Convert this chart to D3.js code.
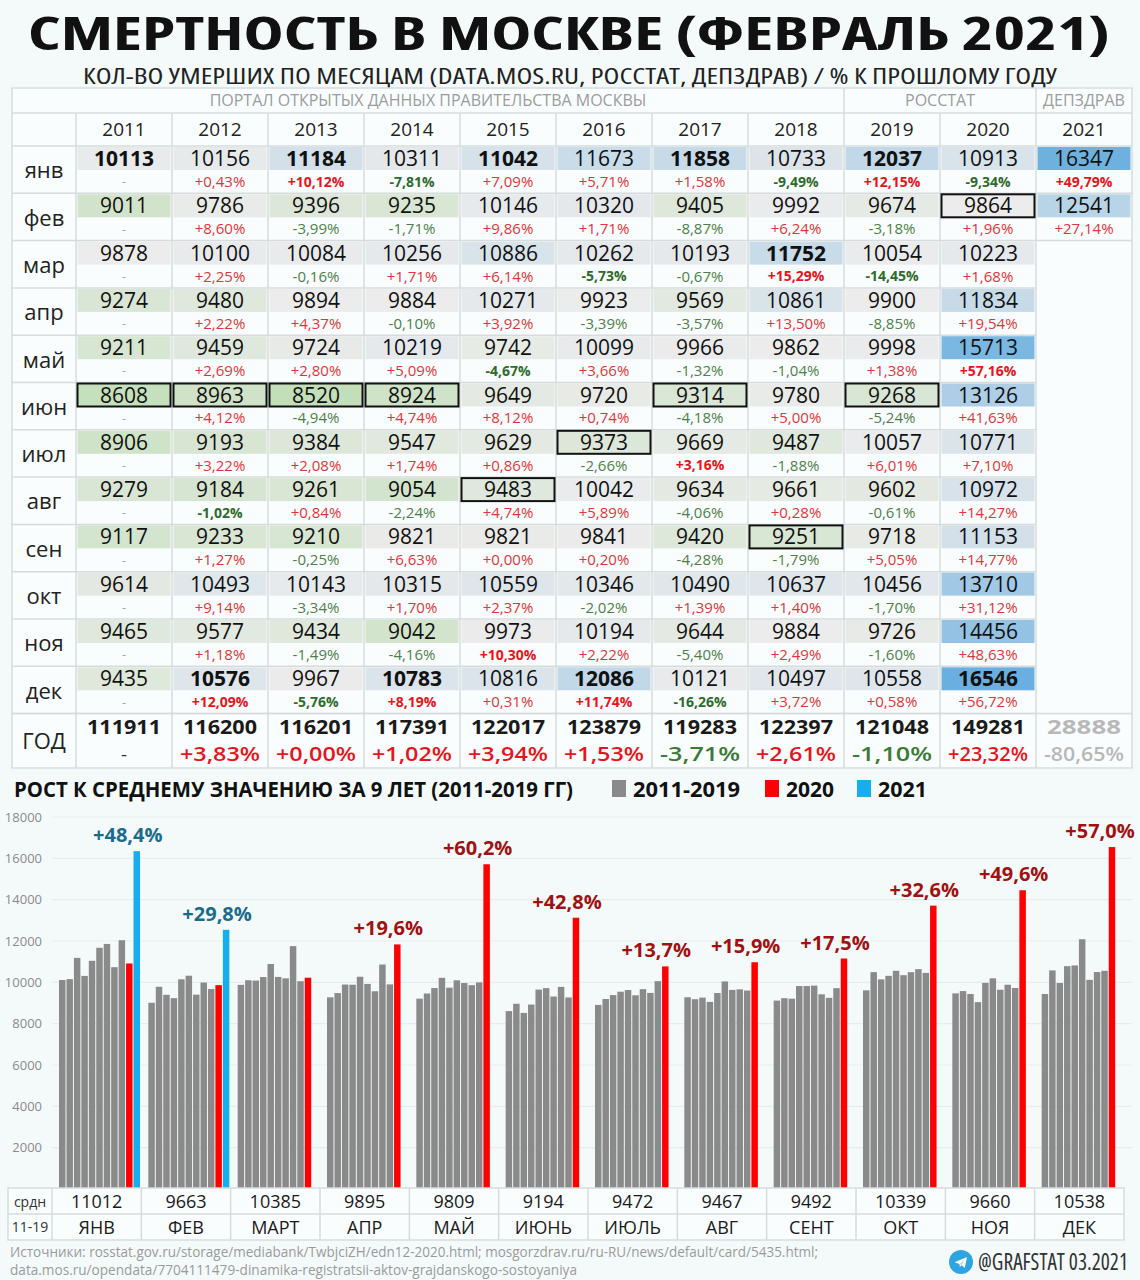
<!DOCTYPE html>
<html><head><meta charset="utf-8">
<script src="https://cdn.jsdelivr.net/npm/d3@7"></script>
<style>
html,body{margin:0;padding:0;background:#f4fafa;}
svg{display:block;}
text{font-family:"Open Sans","Noto Sans",sans-serif;}
</style></head>
<body>
<svg id="chart" width="1140" height="1280"></svg>
<script>
// ---------------- DATA ----------------
const months = ["янв","фев","мар","апр","май","июн","июл","авг","сен","окт","ноя","дек"];
const monthsShort = ["ЯНВ","ФЕВ","МАРТ","АПР","МАЙ","ИЮНЬ","ИЮЛЬ","АВГ","СЕНТ","ОКТ","НОЯ","ДЕК"];
const years = [2011,2012,2013,2014,2015,2016,2017,2018,2019,2020,2021];
const v2011 = [10113,9011,9878,9274,9211,8608,8906,9279,9117,9614,9465,9435];
const v2012 = [10156,9786,10100,9480,9459,8963,9193,9184,9233,10493,9577,10576];
const v2013 = [11184,9396,10084,9894,9724,8520,9384,9261,9210,10143,9434,9967];
const v2014 = [10311,9235,10256,9884,10219,8924,9547,9054,9821,10315,9042,10783];
const v2015 = [11042,10146,10886,10271,9742,9649,9629,9483,9821,10559,9973,10816];
const v2016 = [11673,10320,10262,9923,10099,9720,9373,10042,9841,10346,10194,12086];
const v2017 = [11858,9405,10193,9569,9966,9314,9669,9634,9420,10490,9644,10121];
const v2018 = [10733,9992,11752,10861,9862,9780,9487,9661,9251,10637,9884,10497];
const v2019 = [12037,9674,10054,9900,9998,9268,10057,9602,9718,10456,9726,10558];
const v2020 = [10913,9864,10223,11834,15713,13126,10771,10972,11153,13710,14456,16546];
const v2021 = [16347,12541];
const sourceGroups = [
  {label:"ПОРТАЛ ОТКРЫТЫХ ДАННЫХ ПРАВИТЕЛЬСТВА МОСКВЫ", from:null, to:2018},
  {label:"РОССТАТ", from:2019, to:2020},
  {label:"ДЕПЗДРАВ", from:2021, to:2021}
];
const baseYears = [2011,2012,2013,2014,2015,2016,2017,2018,2019];
const yTicks = [2000,4000,6000,8000,10000,12000,14000,16000,18000];
const titleText = "СМЕРТНОСТЬ В МОСКВЕ (ФЕВРАЛЬ 2021)";
const subtitleText = "КОЛ-ВО УМЕРШИХ ПО МЕСЯЦАМ (DATA.MOS.RU, РОССТАТ, ДЕПЗДРАВ) / % К ПРОШЛОМУ ГОДУ";
const chartTitle = "РОСТ К СРЕДНЕМУ ЗНАЧЕНИЮ ЗА 9 ЛЕТ (2011-2019 ГГ)";
const legendItems = ["2011-2019","2020","2021"];
const sourceLines = [
  "Источники: rosstat.gov.ru/storage/mediabank/TwbjciZH/edn12-2020.html; mosgorzdrav.ru/ru-RU/news/default/card/5435.html;",
  "data.mos.ru/opendata/7704111479-dinamika-registratsii-aktov-grajdanskogo-sostoyaniya"
];
const credit = "@GRAFSTAT 03.2021";

// ---------------- BUILD ----------------
const series = {2011:v2011,2012:v2012,2013:v2013,2014:v2014,2015:v2015,2016:v2016,2017:v2017,2018:v2018,2019:v2019,2020:v2020,2021:v2021};
const svg = d3.select("#chart");
svg.append("rect").attr("width",1140).attr("height",1280).attr("fill","#f4fafa");

const fmtPct = v => d3.format("+.2f")(v).replace("−","-").replace(".",",") + "%";
const fmtPct1 = v => d3.format("+.1f")(v).replace("−","-").replace(".",",") + "%";
const DV = "'DejaVu Sans Condensed','DejaVu Sans',sans-serif";

// text fitted to a width by font size, then scaled vertically to a cap height
function fitted(o) {
  const g = svg.append("g");
  const t = g.append("text").attr("x",0).attr("y",0).attr("text-anchor",o.anchor)
    .attr("font-family",o.family).attr("font-weight",o.weight||400).attr("font-size",40)
    .attr("fill",o.fill).style("font-stretch","condensed").text(o.text);
  const len = t.node().getComputedTextLength();
  const fs = 40*o.width/len;
  t.attr("font-size",fs);
  const k = o.capH/(0.729*fs);
  g.attr("transform",`translate(${o.x},${o.y}) scale(1,${k})`);
  return t;
}

// Title
svg.append("text").attr("x",569).attr("y",50).attr("text-anchor","middle")
  .attr("font-family",DV).style("font-stretch","condensed").attr("font-weight",700)
  .attr("font-size",46).attr("fill","#111")
  .attr("textLength",1082).attr("lengthAdjust","spacingAndGlyphs").text(titleText);
svg.append("text").attr("x",570).attr("y",84).attr("text-anchor","middle")
  .attr("font-family",DV).style("font-stretch","condensed")
  .attr("font-size",21).attr("fill","#222")
  .attr("textLength",974).attr("lengthAdjust","spacingAndGlyphs").text(subtitleText);

// ---------------- TABLE ----------------
const tabL = 12, tabR = 1132, tabTop = 88, hdr1B = 113, hdr2B = 146;
const x = d3.scaleBand().domain(years).range([76,1132]);
const yRow = d3.scaleBand().domain(months).range([146,713.6]);
const godTop = 713.6, godBot = 768;
const allVals = years.flatMap(y => series[y]);
const color = d3.scaleLinear()
  .domain([d3.min(allVals), d3.median(allVals), d3.max(allVals)])
  .range(["#c2dfb9","#ececec","#6aafdf"]);

const gT = svg.append("g");
gT.append("rect").attr("x",tabL).attr("y",tabTop).attr("width",tabR-tabL).attr("height",godBot-tabTop)
  .attr("fill","#fafdfd").attr("stroke","#d6dcdc").attr("stroke-width",1.5);

// source header
sourceGroups.forEach(g => {
  const x0 = g.from===null ? tabL : x(g.from);
  const x1 = x(g.to) + x.bandwidth();
  gT.append("text").attr("x",(x0+x1)/2).attr("y",(tabTop+hdr1B)/2).attr("dy","0.35em")
    .attr("text-anchor","middle").attr("font-size",16).attr("fill","#9c9c9c").text(g.label);
  if (g.from!==null) gT.append("line").attr("x1",x0).attr("x2",x0).attr("y1",tabTop).attr("y2",hdr1B)
    .attr("stroke","#d6dcdc").attr("stroke-width",1.5);
});
gT.append("line").attr("x1",tabL).attr("x2",tabR).attr("y1",hdr1B).attr("y2",hdr1B).attr("stroke","#d6dcdc").attr("stroke-width",1.5);
gT.append("line").attr("x1",tabL).attr("x2",tabR).attr("y1",hdr2B).attr("y2",hdr2B).attr("stroke","#d6dcdc").attr("stroke-width",1.5);

// year header
years.forEach(y => {
  gT.append("text").attr("x",x(y)+x.bandwidth()/2).attr("y",(hdr1B+hdr2B)/2).attr("dy","0.35em")
    .attr("text-anchor","middle").attr("font-size",19).attr("fill","#222").text(y);
});

// row separators
months.forEach(m => {
  gT.append("line").attr("x1",tabL).attr("x2",m==="фев"||m==="янв"?tabR:x(2021)).attr("y1",yRow(m)+yRow.bandwidth()).attr("y2",yRow(m)+yRow.bandwidth())
    .attr("stroke","#d6dcdc").attr("stroke-width",1.5);
  gT.append("text").attr("x",44).attr("y",yRow(m)+yRow.bandwidth()/2+1).attr("dy","0.35em")
    .attr("text-anchor","middle").attr("font-size",22).attr("fill","#222").text(m);
});
gT.append("line").attr("x1",tabL).attr("x2",tabR).attr("y1",godTop).attr("y2",godTop).attr("stroke","#d6dcdc").attr("stroke-width",1.5);

// column separators
years.forEach(y => {
  gT.append("line").attr("x1",x(y)).attr("x2",x(y)).attr("y1",hdr1B).attr("y2",godBot)
    .attr("stroke","#d6dcdc").attr("stroke-width",1.5);
});

// cells
const valH = 24;
years.forEach((yr, yi) => {
  const vals = series[yr];
  const prev = yi>0 ? series[years[yi-1]] : null;
  const colMax = d3.max(vals), colMin = d3.min(vals);
  const pcts = vals.map((v,i) => prev ? (v/prev[i]-1)*100 : null);
  const pMax = prev ? d3.max(pcts) : null, pMin = prev ? d3.min(pcts) : null;
  vals.forEach((v,i) => {
    const m = months[i];
    const cx = x(yr)+x.bandwidth()/2, top = yRow(m);
    gT.append("rect").attr("x",x(yr)+1.5).attr("y",top+1).attr("width",x.bandwidth()-3).attr("height",valH-1)
      .attr("fill",color(v));
    const isMax = yr<2021 && v===colMax, isMin = yr<2021 && v===colMin;
    if (isMin) gT.append("rect").attr("x",x(yr)+1.5).attr("y",top+1).attr("width",x.bandwidth()-3).attr("height",valH-1)
      .attr("fill","none").attr("stroke","#111").attr("stroke-width",2);
    gT.append("text").attr("x",cx).attr("y",top+valH/2+0.5).attr("dy","0.36em").attr("text-anchor","middle")
      .attr("font-size",21).attr("font-weight",isMax?700:400).attr("fill","#111").text(v);
    const py = top + valH + (yRow.bandwidth()-valH)/2;
    if (!prev) {
      gT.append("text").attr("x",cx).attr("y",py).attr("dy","0.35em").attr("text-anchor","middle")
        .attr("font-size",13).attr("fill","#aaa").text("-");
    } else {
      const p = pcts[i];
      const bold = p===pMax || (p===pMin && vals.length>2);
      gT.append("text").attr("x",cx).attr("y",py).attr("dy","0.35em").attr("text-anchor","middle")
        .attr("font-family", bold ? "'Open Sans',sans-serif" : "'Liberation Serif','DejaVu Serif',serif")
        .attr("font-size", bold?14:15).attr("font-weight",bold?700:400)
        .attr("fill", p>=0 ? (bold?"#e8141c":"#e0353b") : (bold?"#2f6b2a":"#4f8048"))
        .text(fmtPct(p));
    }
  });
});

// Year totals
const totals = years.map(y => d3.sum(series[y]));
years.forEach((yr, yi) => {
  const cx = x(yr)+x.bandwidth()/2;
  const grey = yr===2021;
  gT.append("text").attr("x",cx).attr("y",727).attr("dy","0.35em").attr("text-anchor","middle")
    .attr("font-size",19).attr("font-weight",700).attr("fill",grey?"#b8b8b8":"#1a1a1a")
    .attr("textLength",74).attr("lengthAdjust","spacingAndGlyphs").text(totals[yi]);
  let txt, fill;
  if (yi===0) { txt="-"; fill="#333"; }
  else {
    const p = (totals[yi]/totals[yi-1]-1)*100;
    txt = fmtPct(p);
    fill = grey ? "#b8b8b8" : (p>=0 ? "#e8141c" : "#3c7a37");
  }
  gT.append("text").attr("x",cx).attr("y",754).attr("dy","0.35em").attr("text-anchor","middle")
    .attr("font-size",19).attr("font-weight",yi===0?400:600).attr("fill",fill)
    .attr("textLength",yi===0?null:80).attr("lengthAdjust","spacingAndGlyphs").text(txt);
});
gT.append("text").attr("x",44).attr("y",741).attr("dy","0.35em").attr("text-anchor","middle")
  .attr("font-size",22).attr("fill","#222").text("ГОД");

// ---------------- BAR CHART ----------------
svg.append("text").attr("x",14).attr("y",797).attr("font-size",22).attr("font-weight",700).attr("fill","#111")
  .attr("textLength",559).attr("lengthAdjust","spacingAndGlyphs").text(chartTitle);
const legColors = ["#8a8a8a","#ff0000","#17aeee"];
const legX = [612,765,857], legW = [107,48,49];
legendItems.forEach((t,i) => {
  svg.append("rect").attr("x",legX[i]).attr("y",780).attr("width",14).attr("height",17).attr("fill",legColors[i]);
  svg.append("text").attr("x",legX[i]+21).attr("y",797).attr("font-size",22).attr("font-weight",700).attr("fill","#111")
    .attr("textLength",legW[i]).attr("lengthAdjust","spacingAndGlyphs").text(t);
});

const yS = d3.scaleLinear().domain([0,18000]).range([1189,817]);
const xM = d3.scaleBand().domain(months).range([52,1124]);
const xY = d3.scaleBand().domain(years).range([7,88]).paddingInner(0.13);

// gridlines
svg.append("g").selectAll("line").data(yTicks).join("line")
  .attr("x1",52).attr("x2",1132).attr("y1",d=>yS(d)).attr("y2",d=>yS(d))
  .attr("stroke","#e3eded").attr("stroke-width",1.2);
const yAx = svg.append("g").attr("transform","translate(46,0)")
  .call(d3.axisLeft(yS).tickValues(yTicks).tickSize(0).tickPadding(4).tickFormat(d=>d));
yAx.select(".domain").remove();
yAx.selectAll("text").attr("font-size",13).attr("fill","#8a8a8a").attr("font-family","'Open Sans',sans-serif");

const barColor = yr => yr===2021 ? "#17aeee" : (yr===2020 ? "#ff0000" : "#8a8a8a");
const bars = [];
months.forEach((m,i) => {
  years.forEach(yr => {
    const v = series[yr][i];
    if (v!==undefined) bars.push({m, yr, v});
  });
});
svg.append("g").selectAll("rect").data(bars).join("rect")
  .attr("x", d => xM(d.m) + xY(d.yr))
  .attr("width", xY.bandwidth())
  .attr("y", d => yS(d.v))
  .attr("height", d => yS(0)-yS(d.v))
  .attr("fill", d => barColor(d.yr));

// averages & labels
const avgs = months.map((m,i) => d3.mean(baseYears, y => series[y][i]));
months.forEach((m,i) => {
  const lastYr = series[2021][i]!==undefined ? 2021 : 2020;
  const v = series[lastYr][i];
  const p = (v/avgs[i]-1)*100;
  if (p>0) {
    svg.append("text").attr("x", Math.min(xM(m)+xY(lastYr)+xY.bandwidth()/2-9, 1100)).attr("y", yS(v)-9)
      .attr("text-anchor","middle").attr("font-size",20).attr("font-weight",700)
      .attr("fill", lastYr===2021 ? "#1b6b8c" : "#a01212").text(fmtPct1(p));
  }
});

// bottom table
const bT = svg.append("g");
bT.append("rect").attr("x",8).attr("y",1188).attr("width",1116).attr("height",52)
  .attr("fill","#fafdfd").attr("stroke","#d6dcdc").attr("stroke-width",1.5);
bT.append("line").attr("x1",8).attr("x2",1124).attr("y1",1214).attr("y2",1214).attr("stroke","#d6dcdc").attr("stroke-width",1.5);
months.forEach((m,i) => {
  bT.append("line").attr("x1",xM(m)).attr("x2",xM(m)).attr("y1",1188).attr("y2",1240).attr("stroke","#d6dcdc").attr("stroke-width",1.5);
  const cx = xM(m)+xM.bandwidth()/2;
  bT.append("text").attr("x",cx).attr("y",1202).attr("dy","0.35em").attr("text-anchor","middle")
    .attr("font-size",18).attr("fill","#1a1a1a").text(Math.round(avgs[i]));
  bT.append("text").attr("x",cx).attr("y",1228).attr("dy","0.35em").attr("text-anchor","middle")
    .attr("font-size",18).attr("fill","#1a1a1a").text(monthsShort[i]);
});
bT.append("text").attr("x",30).attr("y",1202).attr("dy","0.35em").attr("text-anchor","middle")
  .attr("font-size",14).attr("fill","#333").text("срдн");
bT.append("text").attr("x",30).attr("y",1227).attr("dy","0.35em").attr("text-anchor","middle")
  .attr("font-size",14).attr("fill","#333").text("11-19");

// footer
svg.append("text").attr("x",10).attr("y",1257).attr("font-size",14).attr("fill","#9a9a9a")
  .attr("textLength",808).attr("lengthAdjust","spacingAndGlyphs").text(sourceLines[0]);
svg.append("text").attr("x",10).attr("y",1275).attr("font-size",14).attr("fill","#9a9a9a")
  .attr("textLength",567).attr("lengthAdjust","spacingAndGlyphs").text(sourceLines[1]);
const tg = svg.append("g").attr("transform","translate(961,1262)");
tg.append("circle").attr("r",12).attr("fill","#2ca5e0");
tg.append("path").attr("d","M-6.5,0.2 L6,-5 L3.8,6 L0.5,3.2 L-1.2,5 L-1.5,2 L-6.5,0.2 Z").attr("fill","#fff");
tg.append("path").attr("d","M-1.5,2 L4,-3.2 L0.5,3.2 Z").attr("fill","#c8daea");
fitted({x:1128,y:1270,anchor:"end",family:DV,weight:400,fill:"#333",text:credit,width:150,capH:17});
</script>
</body></html>
